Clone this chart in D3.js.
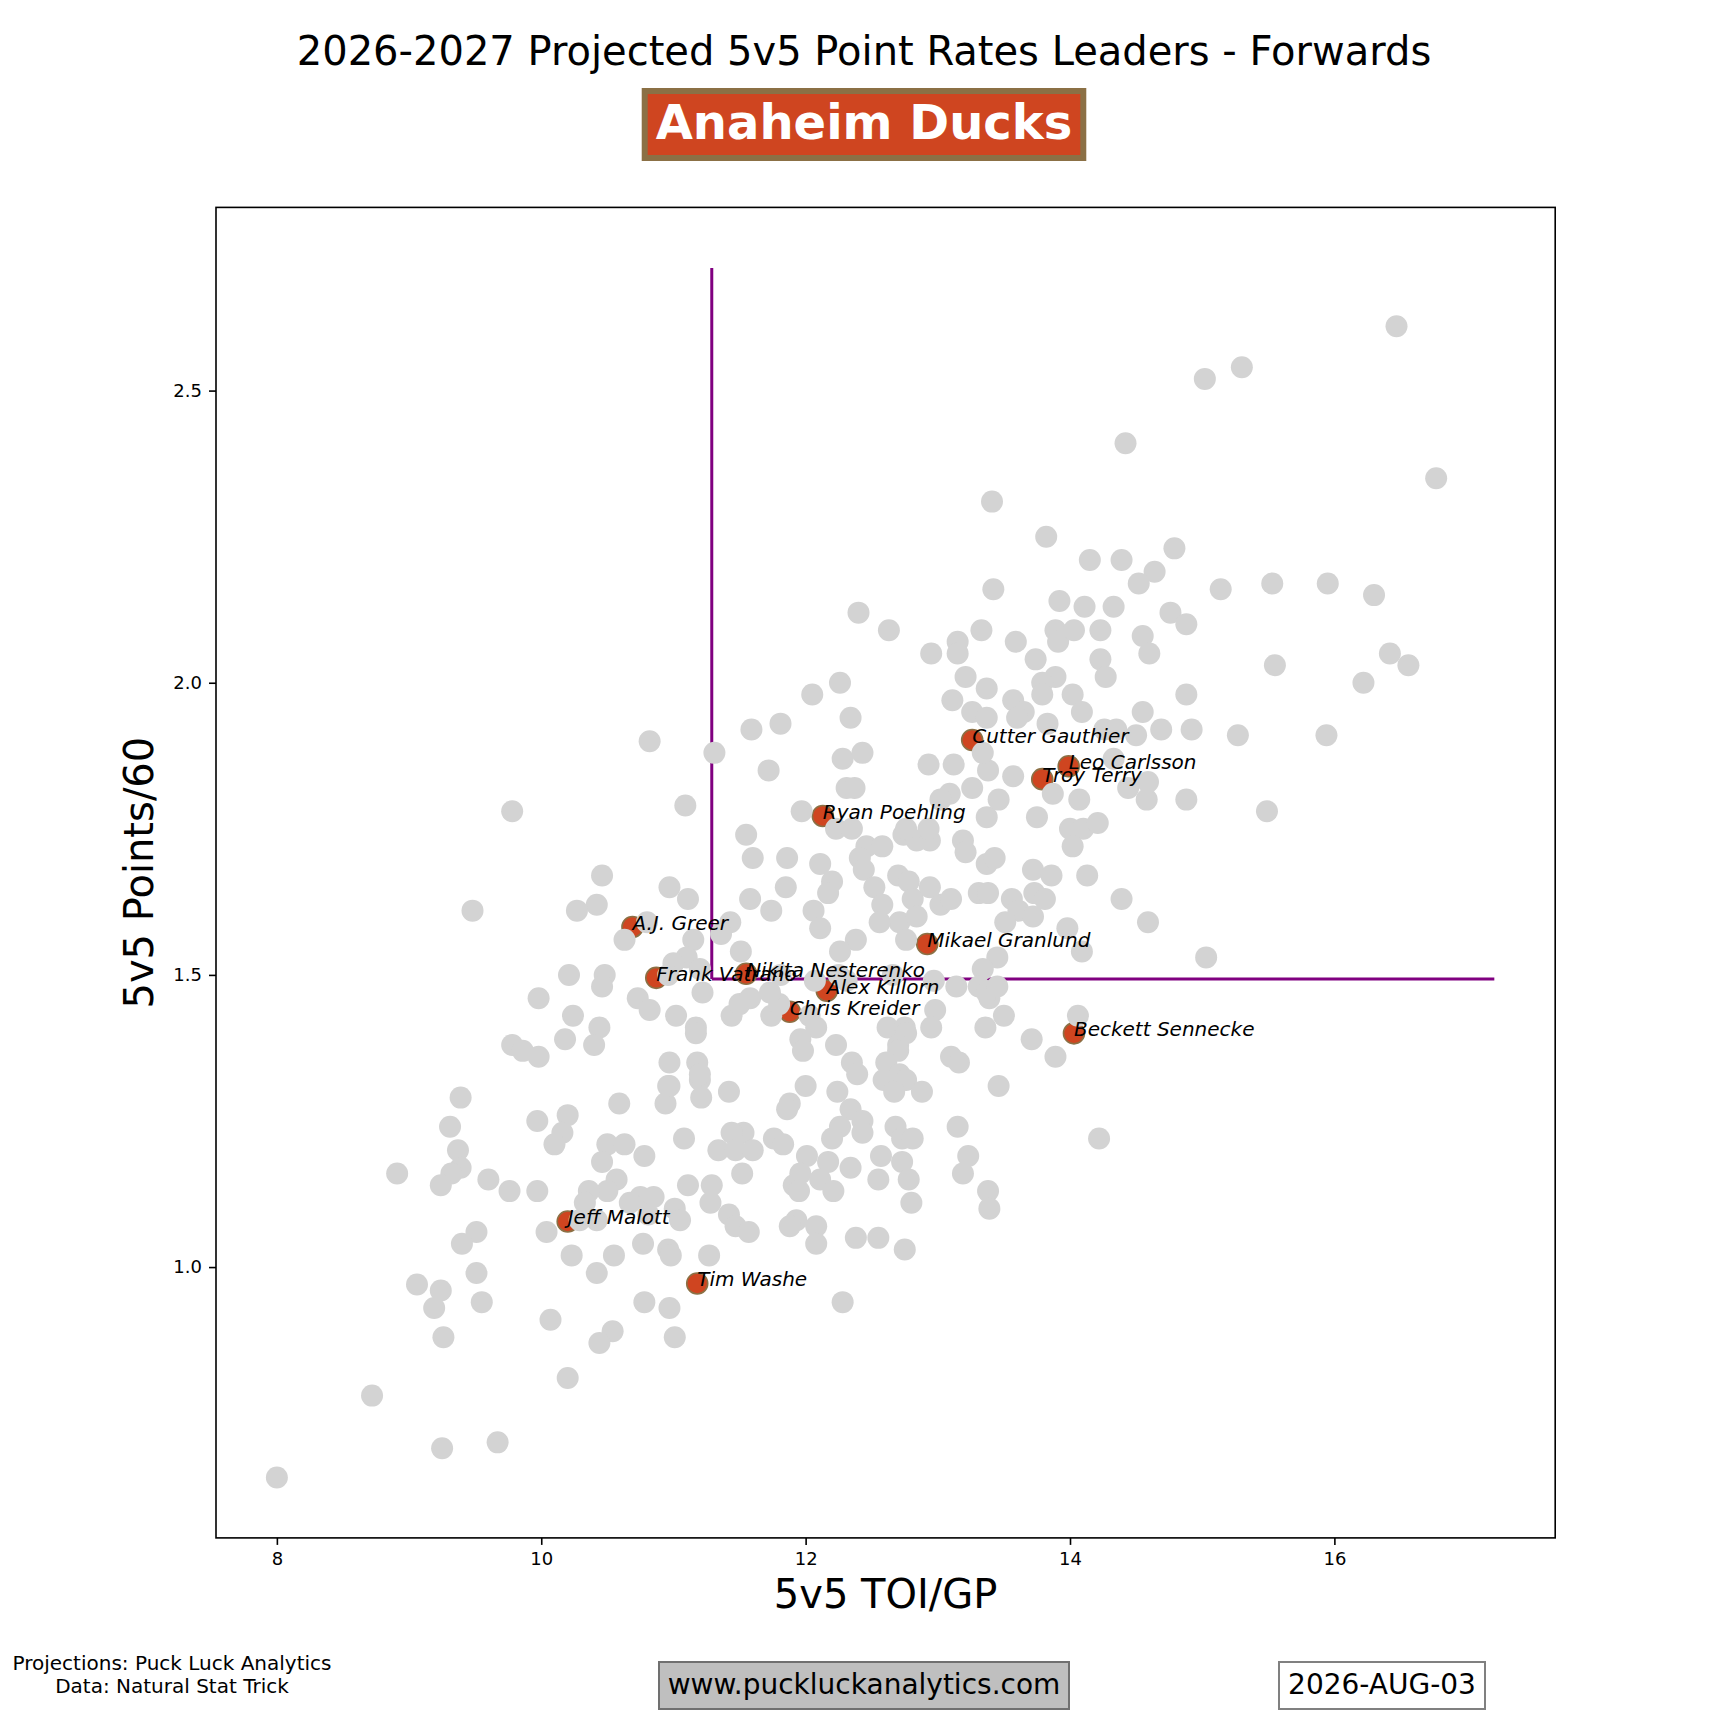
<!DOCTYPE html>
<html>
<head>
<meta charset="utf-8">
<script src="https://cdn.jsdelivr.net/npm/d3@7"></script>
<style>
  body { margin: 0; background: #fff; }
  svg { font-family: "DejaVu Sans", sans-serif; }
</style>
</head>
<body>
<svg width="1728" height="1728"></svg>
<script>
// league forwards, [5v5 TOI/GP, 5v5 Points/60]
const league = [
  [9.39,1.29],[9.31,1.24],[9.37,1.20],[9.39,1.17],[9.32,1.16],[9.24,1.14],[8.91,1.16],[9.60,1.15],[9.76,1.13],[9.97,1.13],
  [9.97,1.25],[10.20,1.26],[10.16,1.23],[10.10,1.21],[10.59,1.28],[10.50,1.21],[10.46,1.18],[10.63,1.21],[10.78,1.19],[10.94,1.28],
  [10.96,1.31],[11.20,1.32],[11.21,1.29],[11.08,1.22],[11.11,1.14],[10.57,1.15],[10.50,1.13],[10.36,1.13],[10.33,1.11],[10.75,1.12],
  [10.85,1.12],[10.67,1.11],[10.81,1.09],[11.01,1.10],[11.05,1.08],[10.29,1.08],[10.42,1.08],[10.04,1.06],[10.23,1.02],[10.55,1.02],
  [10.77,1.04],[10.96,1.03],[10.98,1.02],[10.42,0.99],[9.51,1.06],[9.40,1.04],[9.51,0.99],[9.06,0.97],[9.24,0.96],[9.19,0.93],
  [9.55,0.94],[9.26,0.88],[10.07,0.91],[10.54,0.89],[10.44,0.87],[10.78,0.94],[10.97,0.93],[11.01,0.88],[10.20,0.81],[8.72,0.78],
  [9.25,0.69],[9.67,0.70],[8.00,0.64],
  [10.82,1.90],[11.09,1.79],[9.78,1.78],[9.48,1.61],[10.46,1.67],[10.42,1.62],[10.27,1.61],[10.97,1.65],[11.11,1.63],[10.80,1.59],
  [10.63,1.56],[11.15,1.56],[11.10,1.53],[11.00,1.52],[10.96,1.50],[11.20,1.51],[10.21,1.50],[10.48,1.50],[10.46,1.48],[9.98,1.46],
  [10.24,1.43],[10.73,1.46],[10.82,1.44],[11.02,1.43],[11.22,1.47],[10.44,1.41],[10.40,1.38],[10.18,1.39],[9.78,1.38],[9.86,1.37],
  [9.98,1.36],[11.17,1.41],[11.17,1.40],[11.18,1.35],[11.20,1.33],[10.97,1.35],[10.97,1.31],
  [11.44,1.43],[11.50,1.45],[11.74,1.43],[11.80,1.45],[12.03,1.43],[12.08,1.41],[11.96,1.39],[11.98,1.37],[12.23,1.38],[12.35,1.35],
  [12.39,1.33],[12.62,1.41],[12.75,1.41],[12.76,1.40],[12.70,1.38],[12.70,1.37],[12.61,1.35],[12.59,1.32],[12.71,1.33],[12.76,1.32],
  [12.67,1.30],[12.88,1.30],[12.98,1.44],[12.95,1.41],[13.10,1.36],[13.16,1.35],[13.36,1.41],[13.50,1.43],[13.39,1.46],[13.46,1.31],
  [13.71,1.39],[13.89,1.36],[14.06,1.43],[14.22,1.22],[13.15,1.24],[13.23,1.19],[13.19,1.16],[13.38,1.13],[13.39,1.10],[11.42,1.30],
  [12.00,1.31],[11.88,1.28],[11.86,1.27],[12.24,1.30],[12.34,1.27],[12.43,1.25],[12.26,1.24],[12.43,1.23],[12.20,1.22],[12.68,1.24],
  [12.73,1.22],[12.81,1.22],[12.57,1.19],[12.73,1.18],[12.55,1.15],[12.78,1.15],[12.80,1.11],[12.34,1.17],[12.17,1.18],[12.01,1.19],
  [11.96,1.16],[11.91,1.14],[11.95,1.13],[12.11,1.15],[12.21,1.13],[11.53,1.23],[11.44,1.23],[11.34,1.20],[11.47,1.20],[11.60,1.20],
  [11.76,1.22],[11.83,1.21],[11.52,1.16],[11.29,1.14],[11.28,1.11],[11.42,1.09],[11.47,1.07],[11.57,1.06],[11.93,1.08],[11.88,1.07],
  [12.08,1.07],[12.08,1.04],[12.38,1.05],[12.55,1.05],[12.75,1.03],[11.27,1.02],[12.28,0.94],
  [11.59,1.92],[11.81,1.93],[11.31,1.88],[11.72,1.85],[12.28,1.87],[12.43,1.88],[12.31,1.82],[12.37,1.82],[11.97,1.78],[12.23,1.75],
  [12.35,1.75],[11.55,1.74],[11.60,1.70],[11.86,1.70],[12.11,1.69],[12.20,1.66],[12.17,1.64],[12.06,1.61],[11.85,1.65],[11.58,1.63],
  [11.74,1.61],[11.43,1.59],[12.11,1.58],[12.38,1.56],[12.26,1.54],[11.51,1.54],[11.36,1.57],[12.46,1.72],[12.58,1.72],[12.41,1.70],
  [12.44,1.68],[12.52,1.65],[12.58,1.62],[12.70,1.67],[12.78,1.66],[12.74,1.74],[12.84,1.73],[12.94,1.73],[12.76,1.75],[12.93,1.75],
  [12.81,1.63],[12.94,1.65],[12.71,1.59],[12.84,1.60],[12.56,1.59],[12.76,1.56],[13.02,1.62],[13.10,1.63],[13.19,1.73],[13.21,1.71],
  [13.37,1.69],[13.43,1.70],[13.31,1.64],[13.38,1.64],[12.93,1.86],[13.12,1.86],[13.09,1.81],[13.02,1.80],[13.26,1.82],[13.37,1.77],
  [13.46,1.80],[13.38,1.85],[13.34,1.88],[13.57,1.84],[13.75,1.77],[13.87,1.81],[14.07,1.80],[14.00,1.75],[14.10,1.75],[14.21,1.76],
  [14.02,1.72],[13.72,1.68],[13.86,1.67],[14.13,1.67],[14.39,1.63],[14.59,1.59],[13.73,1.64],[13.81,1.63],[13.56,1.63],[13.61,1.61],
  [13.51,1.59],[13.72,1.60],[13.98,1.58],[14.09,1.54],[13.45,1.53],[13.34,1.51],[14.50,1.91],[14.44,1.82],[14.58,1.80],[14.33,1.87],
  [12.66,1.50],[12.25,1.50],[11.58,1.46],[11.73,1.47],[11.81,1.50],[12.07,1.49],[12.31,1.49],[12.97,1.49],[13.14,1.48],[13.31,1.48],
  [13.37,1.47],[13.45,1.48],
  [14.42,2.41],[13.41,2.31],[13.82,2.25],[14.15,2.21],[14.39,2.21],[13.42,2.16],[13.92,2.14],[14.11,2.13],[14.33,2.13],[12.40,2.12],
  [12.63,2.09],[13.33,2.09],[13.15,2.07],[13.15,2.05],[12.95,2.05],[13.59,2.07],[13.89,2.09],[13.91,2.07],[14.03,2.09],[14.23,2.09],
  [14.23,2.04],[14.27,2.01],[13.74,2.04],[13.89,2.01],[13.79,2.00],[13.79,1.98],[14.02,1.98],[14.09,1.95],[14.26,1.92],[14.35,1.92],
  [13.21,2.01],[13.37,1.99],[13.11,1.97],[13.57,1.97],[13.65,1.95],[13.60,1.94],[13.26,1.95],[13.37,1.94],[13.83,1.93],[12.05,1.98],
  [12.26,2.00],[12.34,1.94],
  [16.47,2.61],[15.02,2.52],[15.30,2.54],[16.77,2.35],[14.79,2.23],[14.64,2.19],[14.52,2.17],[15.14,2.16],[15.53,2.17],[15.95,2.17],
  [16.30,2.15],[14.76,2.12],[14.88,2.10],[14.55,2.08],[14.60,2.05],[15.55,2.03],[16.42,2.05],[16.56,2.03],[16.22,2.00],[14.88,1.98],
  [14.55,1.95],[14.69,1.92],[14.92,1.92],[15.27,1.91],[15.94,1.91],
  [14.59,1.83],[14.88,1.80],[15.49,1.78],[15.03,1.53]
];

// Anaheim forwards
const teamNames = ["Cutter Gauthier","Leo Carlsson","Troy Terry","Ryan Poehling","A.J. Greer","Mikael Granlund",
                   "Frank Vatrano","Nikita Nesterenko","Alex Killorn","Chris Kreider","Beckett Sennecke","Jeff Malott","Tim Washe"];
const teamToi = [13.26,13.99,13.79,12.13,10.69,12.92,10.87,11.55,12.16,11.88,14.03,10.20,11.18];
const teamPts = [1.902,1.857,1.835,1.772,1.582,1.553,1.495,1.502,1.473,1.437,1.400,1.078,0.972];

// quadrant lines
const cutToi = 11.29;
const cutPts = 1.493;
const lineTopPts = 2.71;
const lineEndToi = 17.21;

const xTicks = [8, 10, 12, 14, 16];
const yTicks = [1.0, 1.5, 2.0, 2.5];

const title = "2026-2027 Projected 5v5 Point Rates Leaders - Forwards";
const teamTitle = "Anaheim Ducks";
const teamColor = "#CF4520";
const teamEdge = "#8B7045";

const svg = d3.select("svg");
const plotL = 216, plotR = 1555.2, plotT = 207.4, plotB = 1537.9;

// matplotlib-like 5% margins
const allX = league.map(d => d[0]).concat(teamToi, [cutToi, lineEndToi]);
const allY = league.map(d => d[1]).concat(teamPts, [cutPts, lineTopPts]);
const [x0, x1] = d3.extent(allX), [y0, y1] = d3.extent(allY);
const padX = (x1 - x0) * 0.05, padY = (y1 - y0) * 0.05;

const x = d3.scaleLinear().domain([x0 - padX, x1 + padX]).range([plotL, plotR]);
const y = d3.scaleLinear().domain([y0 - padY, y1 + padY]).range([plotB, plotT]);

// title + team badge
svg.append("text")
   .attr("x", 864).attr("y", 65)
   .attr("text-anchor", "middle")
   .attr("font-size", 40)
   .text(title);

const badge = svg.append("g");
const badgeRect = badge.append("rect");
const badgeText = badge.append("text")
   .attr("x", 864).attr("y", 139)
   .attr("text-anchor", "middle")
   .attr("font-size", 48)
   .attr("font-weight", "bold")
   .attr("fill", "#fff")
   .text(teamTitle);
const tw = badgeText.node().getComputedTextLength();
badgeRect.attr("x", 864 - tw / 2 - 11).attr("y", 91)
   .attr("width", tw + 22).attr("height", 67)
   .attr("fill", teamColor)
   .attr("stroke", teamEdge)
   .attr("stroke-width", 6);

// axes
const xAxis = svg.append("g")
   .attr("transform", `translate(0,${plotB})`)
   .call(d3.axisBottom(x).tickValues(xTicks).tickFormat(d3.format("d")).tickSize(7).tickPadding(7));
const yAxis = svg.append("g")
   .attr("transform", `translate(${plotL},0)`)
   .call(d3.axisLeft(y).tickValues(yTicks).tickFormat(d3.format(".1f")).tickSize(7).tickPadding(7));

[xAxis, yAxis].forEach(a => {
    a.select(".domain").remove();
    a.selectAll("line").attr("stroke", "#000").attr("stroke-width", 1.6);
    a.selectAll("text").attr("font-size", 18).attr("font-family", "DejaVu Sans").attr("fill", "#000");
});

svg.append("text")
   .attr("x", (plotL + plotR) / 2).attr("y", 1608)
   .attr("text-anchor", "middle")
   .attr("font-size", 40)
   .text("5v5 TOI/GP");

svg.append("text")
   .attr("transform", `translate(153,${(plotT + plotB) / 2}) rotate(-90)`)
   .attr("text-anchor", "middle")
   .attr("font-size", 40)
   .text("5v5 Points/60");

// quadrant lines
svg.append("line")
   .attr("x1", x(cutToi)).attr("x2", x(cutToi))
   .attr("y1", y(cutPts)).attr("y2", y(lineTopPts))
   .attr("stroke", "purple").attr("stroke-width", 3);
svg.append("line")
   .attr("x1", x(cutToi)).attr("x2", x(lineEndToi))
   .attr("y1", y(cutPts)).attr("y2", y(cutPts))
   .attr("stroke", "purple").attr("stroke-width", 3);

// team dots under the league dots
const team = teamNames.map((n, i) => ({name: n, toi: teamToi[i], pts: teamPts[i]}));

svg.append("g").selectAll("circle")
   .data(team)
   .join("circle")
   .attr("cx", d => x(d.toi))
   .attr("cy", d => y(d.pts))
   .attr("r", 10.5)
   .attr("fill", teamColor)
   .attr("stroke", teamEdge)
   .attr("stroke-width", 1.6);

svg.append("g").selectAll("circle")
   .data(league)
   .join("circle")
   .attr("cx", d => x(d[0]))
   .attr("cy", d => y(d[1]))
   .attr("r", 11)
   .attr("fill", "lightgrey");

svg.append("g").selectAll("text")
   .data(team)
   .join("text")
   .attr("x", d => x(d.toi))
   .attr("y", d => y(d.pts) + 3)
   .attr("font-size", 20)
   .attr("font-style", "italic")
   .text(d => d.name);

// frame
svg.append("rect")
   .attr("x", plotL).attr("y", plotT)
   .attr("width", plotR - plotL).attr("height", plotB - plotT)
   .attr("fill", "none")
   .attr("stroke", "#000")
   .attr("stroke-width", 1.6);

// footer
const credits = svg.append("text")
   .attr("text-anchor", "middle")
   .attr("font-size", 20);
credits.append("tspan").attr("x", 172).attr("y", 1670).text("Projections: Puck Luck Analytics");
credits.append("tspan").attr("x", 172).attr("y", 1693).text("Data: Natural Stat Trick");

svg.append("rect")
   .attr("x", 659).attr("y", 1662).attr("width", 410).attr("height", 47)
   .attr("fill", "#bfbfbf").attr("stroke", "#707070").attr("stroke-width", 2);
svg.append("text")
   .attr("x", 864).attr("y", 1694)
   .attr("text-anchor", "middle")
   .attr("font-size", 28)
   .text("www.puckluckanalytics.com");

svg.append("rect")
   .attr("x", 1279).attr("y", 1662).attr("width", 206).attr("height", 47)
   .attr("fill", "#fff").attr("stroke", "#808080").attr("stroke-width", 2);
svg.append("text")
   .attr("x", 1382).attr("y", 1694)
   .attr("text-anchor", "middle")
   .attr("font-size", 28)
   .text("2026-AUG-03");
</script>
</body>
</html>
